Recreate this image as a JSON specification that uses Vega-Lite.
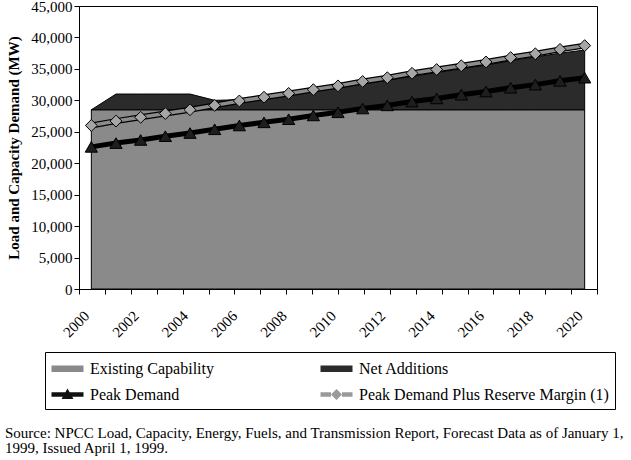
{
  "$schema": "https://vega.github.io/schema/vega-lite/v6.json",
  "autosize": "none",
  "width": 518,
  "height": 283,
  "padding": {"left": 79, "top": 6, "right": 34, "bottom": 171},
  "background": "white",
  "config": {
    "view": {"stroke": "black", "strokeWidth": 1},
    "axis": {"domainColor": "black", "tickColor": "black", "labelColor": "black", "titleColor": "black", "labelFont": "Liberation Serif", "titleFont": "Liberation Serif", "grid": false}
  },
  "title": {
    "text": ["Source: NPCC Load, Capacity, Energy, Fuels, and Transmission Report, Forecast Data as of January 1,", "1999, Issued April 1, 1999."],
    "orient": "bottom", "anchor": "start", "frame": "group", "dx": -74, "offset": 16,
    "font": "Liberation Serif", "fontSize": 15, "fontWeight": "normal", "color": "black", "lineHeight": 15, "align": "left"
  },
  "datasets": {
    "main": [
      {"year": 2000, "existing": 28500, "total": 28500, "peak": 22600, "reserve": 26000},
      {"year": 2001, "existing": 28500, "total": 31000, "peak": 23200, "reserve": 26700},
      {"year": 2002, "existing": 28500, "total": 31000, "peak": 23700, "reserve": 27300},
      {"year": 2003, "existing": 28500, "total": 31000, "peak": 24300, "reserve": 27900},
      {"year": 2004, "existing": 28500, "total": 31000, "peak": 24800, "reserve": 28500},
      {"year": 2005, "existing": 28500, "total": 30000, "peak": 25400, "reserve": 29200},
      {"year": 2006, "existing": 28500, "total": 30100, "peak": 26000, "reserve": 29900},
      {"year": 2007, "existing": 28500, "total": 30300, "peak": 26500, "reserve": 30500},
      {"year": 2008, "existing": 28500, "total": 30800, "peak": 27000, "reserve": 31100},
      {"year": 2009, "existing": 28500, "total": 31400, "peak": 27600, "reserve": 31700},
      {"year": 2010, "existing": 28500, "total": 32000, "peak": 28100, "reserve": 32300},
      {"year": 2011, "existing": 28500, "total": 32600, "peak": 28700, "reserve": 33000},
      {"year": 2012, "existing": 28500, "total": 33200, "peak": 29200, "reserve": 33600},
      {"year": 2013, "existing": 28500, "total": 33800, "peak": 29800, "reserve": 34300},
      {"year": 2014, "existing": 28500, "total": 34400, "peak": 30300, "reserve": 34900},
      {"year": 2015, "existing": 28500, "total": 35000, "peak": 30900, "reserve": 35500},
      {"year": 2016, "existing": 28500, "total": 35600, "peak": 31400, "reserve": 36100},
      {"year": 2017, "existing": 28500, "total": 36300, "peak": 32000, "reserve": 36800},
      {"year": 2018, "existing": 28500, "total": 36900, "peak": 32500, "reserve": 37400},
      {"year": 2019, "existing": 28500, "total": 37500, "peak": 33100, "reserve": 38100},
      {"year": 2020, "existing": 28500, "total": 38000, "peak": 33600, "reserve": 38700}
    ]
  },
  "resolve": {"axis": {"x": "independent"}},
  "layer": [
    {
      "data": {"name": "main"},
      "mark": {"type": "area", "fill": "#8a8a8a", "stroke": "black", "strokeWidth": 1},
      "encoding": {
        "x": {"field": "year", "type": "quantitative",
              "scale": {"domain": [1999.5, 2020.5], "nice": false, "zero": false},
              "axis": {"orient": "bottom", "values": [2000, 2002, 2004, 2006, 2008, 2010, 2012, 2014, 2016, 2018, 2020],
                       "format": "d", "labelAngle": -45, "labelAlign": "right", "labelBaseline": "middle",
                       "ticks": false, "domain": true, "labelFontSize": 15, "labelPadding": 24, "labelOffset": -5, "title": null}},
        "y": {"field": "existing", "type": "quantitative", "title": "Load and Capacity Demand (MW)",
              "scale": {"domain": [0, 45000], "nice": false},
              "axis": {"values": [0, 5000, 10000, 15000, 20000, 25000, 30000, 35000, 40000, 45000], "format": ",d",
                       "labelFontSize": 15, "tickSize": 5, "labelPadding": 2, "titleFontSize": 15, "titleFontWeight": "bold", "titlePadding": 9}},
        "y2": {"datum": 0}
      }
    },
    {
      "data": {"name": "main"},
      "mark": {"type": "area", "fill": "#2b2b2b", "stroke": "black", "strokeWidth": 1},
      "encoding": {
        "x": {"field": "year", "type": "quantitative", "axis": null},
        "y": {"field": "total", "type": "quantitative", "title": "Load and Capacity Demand (MW)",
              "axis": {"values": [0, 5000, 10000, 15000, 20000, 25000, 30000, 35000, 40000, 45000], "format": ",d",
                       "labelFontSize": 15, "tickSize": 5, "labelPadding": 2, "titleFontSize": 15, "titleFontWeight": "bold", "titlePadding": 9}},
        "y2": {"field": "existing"}
      }
    },
    {
      "data": {"name": "main"},
      "mark": {"type": "line", "stroke": "black", "strokeWidth": 5},
      "encoding": {
        "x": {"field": "year", "type": "quantitative",
              "axis": {"orient": "bottom", "values": [1999.5, 2000.55, 2001.6, 2002.65, 2003.7, 2004.75, 2005.8, 2006.85, 2007.9, 2008.95, 2010.0, 2011.05, 2012.1, 2013.15, 2014.2, 2015.25, 2016.3, 2017.35, 2018.4, 2019.45, 2020.5],
                       "labels": false, "ticks": true, "tickSize": 5, "domain": false, "title": null}},
        "y": {"field": "peak", "type": "quantitative", "title": "Load and Capacity Demand (MW)",
              "axis": {"values": [0, 5000, 10000, 15000, 20000, 25000, 30000, 35000, 40000, 45000], "format": ",d",
                       "labelFontSize": 15, "tickSize": 5, "labelPadding": 2, "titleFontSize": 15, "titleFontWeight": "bold", "titlePadding": 9}}
      }
    },
    {
      "data": {"name": "main"},
      "mark": {"type": "point", "shape": "triangle-up", "filled": true, "fill": "#1e1e1e", "stroke": "black", "strokeWidth": 1, "size": 150, "opacity": 1},
      "encoding": {
        "x": {"field": "year", "type": "quantitative", "axis": null},
        "y": {"field": "peak", "type": "quantitative", "title": "Load and Capacity Demand (MW)",
              "axis": {"values": [0, 5000, 10000, 15000, 20000, 25000, 30000, 35000, 40000, 45000], "format": ",d",
                       "labelFontSize": 15, "tickSize": 5, "labelPadding": 2, "titleFontSize": 15, "titleFontWeight": "bold", "titlePadding": 9}}
      }
    },
    {
      "data": {"name": "main"},
      "mark": {"type": "line", "stroke": "black", "strokeWidth": 6},
      "encoding": {
        "x": {"field": "year", "type": "quantitative", "axis": null},
        "y": {"field": "reserve", "type": "quantitative", "title": "Load and Capacity Demand (MW)",
              "axis": {"values": [0, 5000, 10000, 15000, 20000, 25000, 30000, 35000, 40000, 45000], "format": ",d",
                       "labelFontSize": 15, "tickSize": 5, "labelPadding": 2, "titleFontSize": 15, "titleFontWeight": "bold", "titlePadding": 9}}
      }
    },
    {
      "data": {"name": "main"},
      "mark": {"type": "line", "stroke": "#8c8c8c", "strokeWidth": 3.5},
      "encoding": {
        "x": {"field": "year", "type": "quantitative", "axis": null},
        "y": {"field": "reserve", "type": "quantitative", "title": "Load and Capacity Demand (MW)",
              "axis": {"values": [0, 5000, 10000, 15000, 20000, 25000, 30000, 35000, 40000, 45000], "format": ",d",
                       "labelFontSize": 15, "tickSize": 5, "labelPadding": 2, "titleFontSize": 15, "titleFontWeight": "bold", "titlePadding": 9}}
      }
    },
    {
      "data": {"name": "main"},
      "mark": {"type": "point", "shape": "diamond", "filled": true, "fill": "#a6a6a6", "stroke": "black", "strokeWidth": 1, "size": 140, "opacity": 1},
      "encoding": {
        "x": {"field": "year", "type": "quantitative", "axis": null},
        "y": {"field": "reserve", "type": "quantitative", "title": "Load and Capacity Demand (MW)",
              "axis": {"values": [0, 5000, 10000, 15000, 20000, 25000, 30000, 35000, 40000, 45000], "format": ",d",
                       "labelFontSize": 15, "tickSize": 5, "labelPadding": 2, "titleFontSize": 15, "titleFontWeight": "bold", "titlePadding": 9}}
      }
    },
    {
      "data": {"values": []},
      "mark": {"type": "point", "filled": true, "stroke": "black", "strokeWidth": 1, "opacity": 1},
      "encoding": {
        "color": {"field": "series", "type": "nominal",
                  "scale": {"domain": ["Existing Capability", "Net Additions", "Peak Demand", "Peak Demand Plus Reserve Margin (1)"],
                            "range": ["#8a8a8a", "#2b2b2b", "#111111", "#9a9a9a"]},
                  "legend": {"title": null, "orient": "none", "legendX": -34, "legendY": 346, "direction": "horizontal", "columns": 2,
                             "columnPadding": 104, "rowPadding": 7, "padding": 6, "strokeColor": "black", "fillColor": "white",
                             "symbolSize": 400, "symbolStrokeColor": "black", "symbolStrokeWidth": 1, "symbolOpacity": 1,
                             "labelFont": "Liberation Serif", "labelFontSize": 16, "labelColor": "black", "labelOffset": 18, "labelLimit": 320}},
        "shape": {"field": "series", "type": "nominal",
                  "scale": {"domain": ["Existing Capability", "Net Additions", "Peak Demand", "Peak Demand Plus Reserve Margin (1)"],
                            "range": ["M-1,-0.32H2.2V0.32H-1Z", "M-1,-0.32H2.2V0.32H-1Z",
                                      "M-1,-0.22H2.2V0.22H-1Z M0.6,-0.6L1.2,0.45L0,0.45Z",
                                      "M-1,-0.22H0.05V0.22H-1Z M1.15,-0.22H2.2V0.22H1.15Z M0.6,-0.55L1.15,0L0.6,0.55L0.05,0Z"]},
                  "legend": {"title": null, "orient": "none", "legendX": -34, "legendY": 346, "direction": "horizontal", "columns": 2,
                             "columnPadding": 104, "rowPadding": 7, "padding": 6, "strokeColor": "black", "fillColor": "white",
                             "symbolSize": 400, "symbolStrokeColor": "black", "symbolStrokeWidth": 1, "symbolOpacity": 1,
                             "labelFont": "Liberation Serif", "labelFontSize": 16, "labelColor": "black", "labelOffset": 18, "labelLimit": 320}}
      }
    }
  ]
}
